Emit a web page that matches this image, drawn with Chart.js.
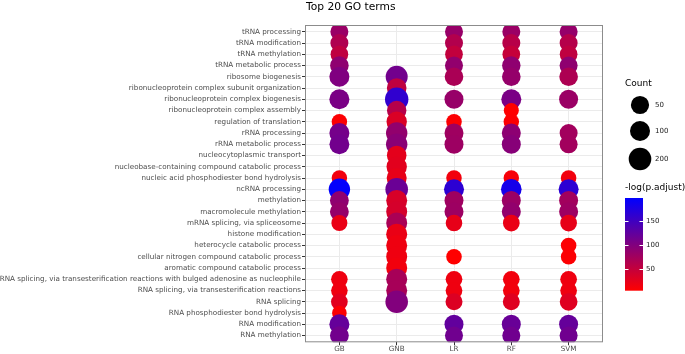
<!DOCTYPE html>
<html lang="en">
<head>
<meta charset="UTF-8">
<title>Top 20 GO terms</title>
<style>
  body { margin: 0; background: #fff; }
  #wrap { width: 685px; height: 354px; }
</style>
<script src="https://cdn.jsdelivr.net/npm/chart.js"></script>
</head>
<body>
<div id="wrap"><canvas id="dotplot"></canvas></div>
<script>
// GO terms, top row first
const terms = [
  'tRNA processing',
  'tRNA modification',
  'tRNA methylation',
  'tRNA metabolic process',
  'ribosome biogenesis',
  'ribonucleoprotein complex subunit organization',
  'ribonucleoprotein complex biogenesis',
  'ribonucleoprotein complex assembly',
  'regulation of translation',
  'rRNA processing',
  'rRNA metabolic process',
  'nucleocytoplasmic transport',
  'nucleobase-containing compound catabolic process',
  'nucleic acid phosphodiester bond hydrolysis',
  'ncRNA processing',
  'methylation',
  'macromolecule methylation',
  'mRNA splicing, via spliceosome',
  'histone modification',
  'heterocycle catabolic process',
  'cellular nitrogen compound catabolic process',
  'aromatic compound catabolic process',
  'RNA splicing, via transesterification reactions with bulged adenosine as nucleophile',
  'RNA splicing, via transesterification reactions',
  'RNA splicing',
  'RNA phosphodiester bond hydrolysis',
  'RNA modification',
  'RNA methylation'
];
const models = ['GB', 'GNB', 'LR', 'RF', 'SVM'];

// gene count per term (null = not in that model's top terms)
const countGB  = [46, 46, 40, 60, 99, null, 99, null, 7, 99, 95, null, null, 7, 149, 65, 65, 13, null, null, null, null, 20, 20, 22, 2, 99, 65];
const countGNB = [null, null, null, null, 174, 87, 238, 81, 113, 149, 149, 87, 113, 100, 200, 134, 134, 134, 134, 134, 134, 134, 134, 134, 200, null, null, null];
const countLR  = [46, 46, 40, 46, 60, null, 70, null, 8, 70, 70, null, null, 8, 99, 70, 70, 20, null, null, 8, null, 22, 22, 26, null, 70, 46];
const countRF  = [46, 46, 40, 55, 60, null, 99, 4, 7, 70, 70, null, null, 7, 120, 70, 70, 22, null, null, null, null, 22, 22, 26, null, 70, 46];
const countSVM = [46, 46, 40, 46, 60, null, 70, null, null, 46, 46, null, null, 8, 99, 70, 70, 22, null, 8, 8, null, 22, 22, 40, null, 70, 46];

// -log(p.adjust) per term
const padjGB  = [83, 66, 54, 90, 102, null, 106, null, 8, 110, 112, null, null, 16, 196, 90, 86, 22, null, null, null, null, 18, 18, 28, 8, 122, 112];
const padjGNB = [null, null, null, null, 112, 54, 162, 62, 34, 88, 95, 26, 28, 24, 118, 36, 38, 70, 22, 18, 18, 16, 72, 72, 100, null, null, null];
const padjLR  = [84, 64, 52, 88, 70, null, 84, null, 8, 78, 80, null, null, 16, 165, 78, 80, 24, null, null, 6, null, 18, 18, 32, null, 124, 114];
const padjRF  = [82, 60, 50, 90, 86, null, 106, 6, 8, 92, 96, null, null, 12, 182, 82, 88, 22, null, null, null, null, 16, 16, 30, null, 120, 114];
const padjSVM = [86, 62, 54, 90, 68, null, 82, null, null, 76, 76, null, null, 16, 165, 76, 80, 24, null, 8, 8, null, 18, 18, 30, null, 122, 114];

// legend breaks and colour range
const countBreaks = [50, 100, 200];
const colorBreaks = [50, 100, 150];
const colorMin = 6;
const colorMax = 198;

const FONT = 'DejaVu Sans';
const counts = [countGB, countGNB, countLR, countRF, countSVM];
const padj = [padjGB, padjGNB, padjLR, padjRF, padjSVM];

function sizeFor(n) {
  return 6.9 + 0.311 * Math.sqrt(n);
}

function colorFor(v) {
  const t = Math.min(1, Math.max(0, (v - colorMin) / (colorMax - colorMin)));
  return `rgb(${Math.round(255 * (1 - t))},0,${Math.round(255 * t)})`;
}

const datasets = models.map((m, j) => ({
  label: m,
  data: terms
    .map((t, i) => counts[j][i] == null ? null :
      { x: j, y: i, r: sizeFor(counts[j][i]), v: padj[j][i] })
    .filter(Boolean),
  backgroundColor: ctx => ctx.raw ? colorFor(ctx.raw.v) : '#000',
  borderWidth: 0
}));

// title, panel border and the two legends
const decor = {
  id: 'decor',
  afterDraw(chart) {
    const { ctx, chartArea: a } = chart;
    ctx.save();
    ctx.strokeStyle = '#8c8c8c';
    ctx.lineWidth = 1;
    ctx.strokeRect(a.left + 0.5, a.top + 0.5, a.right - a.left - 1, a.bottom - a.top - 1);

    ctx.fillStyle = '#000';
    ctx.textAlign = 'left';
    ctx.textBaseline = 'alphabetic';
    ctx.font = `10.7px "${FONT}"`;
    ctx.fillText('Top 20 GO terms', a.left + 1, 9.5);

    const lx = a.right + 22;
    ctx.textBaseline = 'middle';
    ctx.font = `9px "${FONT}"`;
    ctx.fillText('Count', lx, 84);
    const ys = [105, 131, 159];
    countBreaks.forEach((b, i) => {
      ctx.fillStyle = '#000';
      ctx.beginPath();
      ctx.arc(lx + 15, ys[i], sizeFor(b), 0, Math.PI * 2);
      ctx.fill();
      ctx.fillStyle = '#222';
      ctx.font = `7px "${FONT}"`;
      ctx.fillText(String(b), lx + 30, ys[i]);
    });

    ctx.fillStyle = '#000';
    ctx.font = `9px "${FONT}"`;
    ctx.fillText('-log(p.adjust)', lx, 188);
    const top = 198, bot = 290.7, w = 18;
    const grad = ctx.createLinearGradient(0, bot, 0, top);
    grad.addColorStop(0, colorFor(colorMin));
    grad.addColorStop(1, colorFor(colorMax));
    ctx.fillStyle = grad;
    ctx.fillRect(lx, top, w, bot - top);
    ctx.font = `7px "${FONT}"`;
    colorBreaks.forEach(b => {
      const y = Math.round(bot - (b - colorMin) / (colorMax - colorMin) * (bot - top)) + 0.5;
      ctx.strokeStyle = '#fff';
      ctx.beginPath();
      ctx.moveTo(lx, y); ctx.lineTo(lx + 3.5, y);
      ctx.moveTo(lx + w - 3.5, y); ctx.lineTo(lx + w, y);
      ctx.stroke();
      ctx.fillStyle = '#222';
      ctx.fillText(String(b), lx + w + 3, y);
    });
    ctx.restore();
  }
};

const tickFont = { family: FONT, size: 7.2 };

new Chart(document.getElementById('dotplot'), {
  type: 'bubble',
  data: { datasets },
  options: {
    responsive: true,
    maintainAspectRatio: false,
    animation: false,
    events: [],
    layout: { padding: { top: 25, right: 82, left: 0, bottom: 0 } },
    plugins: { legend: { display: false }, title: { display: false }, tooltip: { enabled: false } },
    scales: {
      x: {
        type: 'linear',
        min: -0.6,
        max: models.length - 0.4,
        afterBuildTicks: s => { s.ticks = models.map((_, i) => ({ value: i })); },
        afterFit: s => { s.height = 11; },
        ticks: { callback: v => models[v], font: tickFont, color: '#4D4D4D', padding: 0, autoSkip: false, maxRotation: 0 },
        grid: { color: '#EBEBEB', tickColor: '#333', tickLength: 3 },
        border: { display: false }
      },
      y: {
        type: 'linear',
        reverse: true,
        min: -0.6,
        max: terms.length - 0.4,
        afterBuildTicks: s => { s.ticks = terms.map((_, i) => ({ value: i })); },
        afterFit: s => { s.width = 305; },
        ticks: { callback: v => terms[v], font: tickFont, color: '#4D4D4D', padding: 1, autoSkip: false },
        grid: { color: '#EBEBEB', tickColor: '#333', tickLength: 3 },
        border: { display: false }
      }
    }
  },
  plugins: [decor]
});
</script>
</body>
</html>
